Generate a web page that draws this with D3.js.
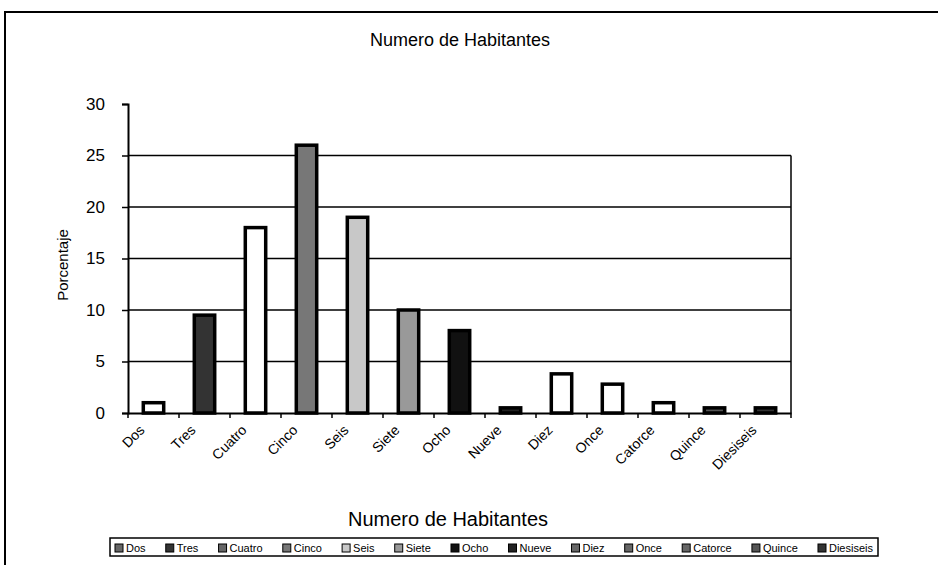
<!DOCTYPE html>
<html><head><meta charset="utf-8">
<script src="https://cdn.jsdelivr.net/npm/d3@7"></script>
<style>body{margin:0;background:#fff;}svg{display:block;font-family:Arial,"Liberation Sans",sans-serif;}</style>
</head><body><svg id="c" width="938" height="565"></svg>
<script>
const categories = ["Dos","Tres","Cuatro","Cinco","Seis","Siete","Ocho","Nueve","Diez","Once","Catorce","Quince","Diesiseis"];
const values = [1, 9.5, 18, 26, 19, 10, 8, 0.5, 3.8, 2.8, 1, 0.5, 0.5];
const fills = ["#ffffff","#333333","#ffffff","#777777","#c8c8c8","#999999","#111111","#222222","#ffffff","#ffffff","#ffffff","#555555","#333333"];
const yTicks = [0,5,10,15,20,25,30];
const title = "Numero de Habitantes";
const xTitle = "Numero de Habitantes";
const yTitle = "Porcentaje";

const svg = d3.select("#c");
const L = 128, R = 791, T = 104, B = 413;
const x = d3.scaleBand().domain(categories).range([L, R]).paddingInner(0.6).paddingOuter(0.3);
const xb = d3.scaleBand().domain(categories).range([L, R]);
const y = d3.scaleLinear().domain([0, 30]).range([B, T]);

// outer frame
svg.append("rect").attr("x",5).attr("y",12).attr("width",940).attr("height",560)
  .attr("fill","none").attr("stroke","#000").attr("stroke-width",2);

// title
svg.append("text").attr("x",460).attr("y",46).attr("text-anchor","middle")
  .attr("font-size",18).text(title);

// gridlines
svg.append("g").selectAll("line").data(yTicks.filter(d => d > 0 && d < 30)).join("line")
  .attr("x1",L).attr("x2",R).attr("y1",d=>y(d)).attr("y2",d=>y(d))
  .attr("stroke","#000").attr("stroke-width",1.5);
// right border
svg.append("line").attr("x1",R).attr("x2",R).attr("y1",y(25)).attr("y2",B)
  .attr("stroke","#000").attr("stroke-width",1.5);

// bars
svg.append("g").selectAll("rect").data(values).join("rect")
  .attr("x",(d,i)=>x(categories[i])).attr("width",x.bandwidth())
  .attr("y",d=>y(d)).attr("height",d=>B-y(d))
  .attr("fill",(d,i)=>fills[i]).attr("stroke","#000").attr("stroke-width",3.5);

// y axis
const ya = svg.append("g").attr("transform",`translate(${L},0)`)
  .call(d3.axisLeft(y).tickValues(yTicks).tickSize(6).tickPadding(17));
ya.select(".domain").attr("stroke-width",2);
ya.selectAll(".tick line").attr("stroke-width",1.5);
ya.selectAll("text").attr("font-size",17).attr("font-family","Arial,'Liberation Sans',sans-serif").attr("fill","#000");

// x axis
const xa = svg.append("g").attr("transform",`translate(0,${B})`)
  .call(d3.axisBottom(xb).tickSize(0).tickFormat(""));
xa.select(".domain").attr("stroke-width",2);
svg.append("g").selectAll("line").data(categories.concat(["_end"])).join("line")
  .attr("x1",(d,i)=>L + i*xb.bandwidth()).attr("x2",(d,i)=>L + i*xb.bandwidth())
  .attr("y1",B).attr("y2",B+5).attr("stroke","#000").attr("stroke-width",1.5);

// x labels rotated
svg.append("g").selectAll("text").data(categories).join("text")
  .attr("transform",d=>`translate(${xb(d)+xb.bandwidth()/2-8},${B+18}) rotate(-45)`)
  .attr("text-anchor","end").attr("font-size",14).text(d=>d);

// axis titles
svg.append("text").attr("x",448).attr("y",526).attr("text-anchor","middle")
  .attr("font-size",20).text(xTitle);
svg.append("text").attr("transform","translate(68,265) rotate(-90)")
  .attr("text-anchor","middle").attr("font-size",15).text(yTitle);

// legend
const lg = svg.append("g");
const LX0 = 110, LX1 = 878;
lg.append("rect").attr("x",LX0).attr("y",538).attr("width",LX1-LX0).attr("height",18)
  .attr("fill","#fff").attr("stroke","#000").attr("stroke-width",1.5);
const items = lg.selectAll("g.it").data(categories).join("g").attr("class","it");
items.append("rect").attr("x",0).attr("y",-7).attr("width",8).attr("height",8)
  .attr("fill",(d,i)=>fills[i]==="#ffffff"?"#666":fills[i]).attr("stroke","#000").attr("stroke-width",1);
items.append("text").attr("x",11).attr("y",1).attr("font-size",11).text(d=>d);
const widths = items.nodes().map(n=>11 + n.querySelector("text").getComputedTextLength());
const total = widths.reduce((a,b)=>a+b,0);
const gap = (LX1 - LX0 - 10 - total) / (categories.length - 1);
let lx = LX0 + 5;
items.each(function(d,i){ d3.select(this).attr("transform",`translate(${lx},551)`); lx += widths[i] + gap; });
</script></body></html>
